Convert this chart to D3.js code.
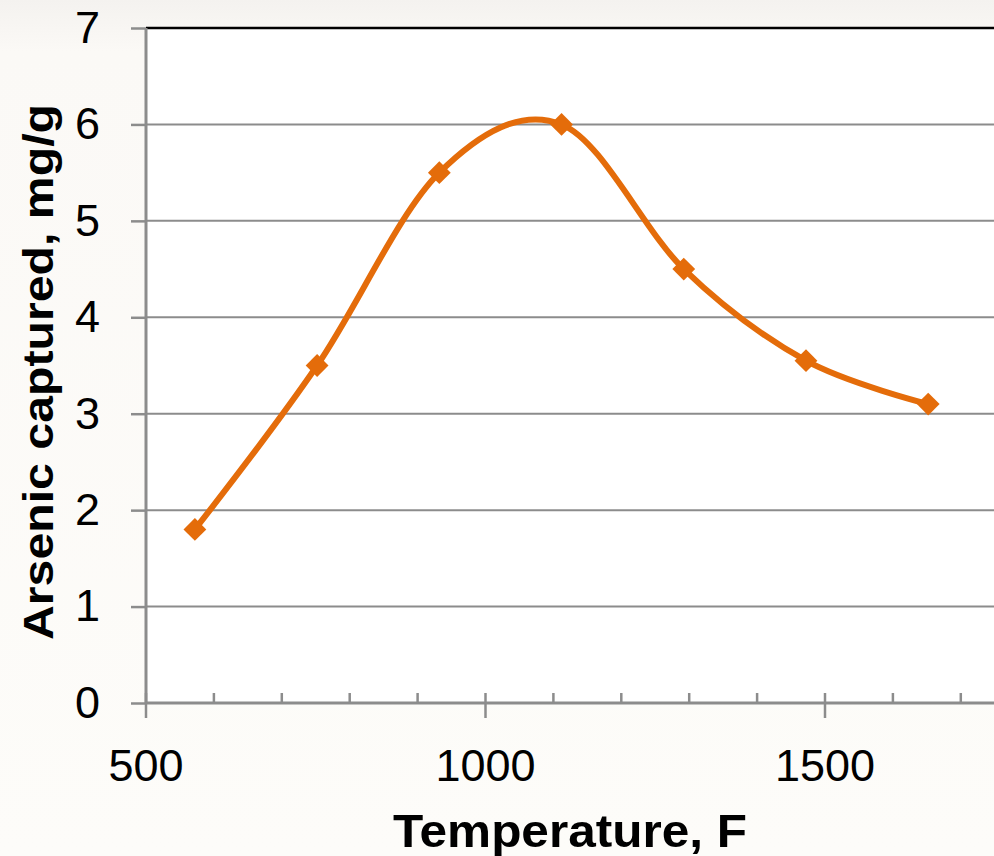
<!DOCTYPE html>
<html>
<head>
<meta charset="utf-8">
<script src="https://cdn.jsdelivr.net/npm/d3@7"></script>
<style>
  html, body { margin: 0; padding: 0; overflow: hidden; background: #fcfbf8; }
  svg { display: block; }
</style>
</head>
<body>
<svg id="chart" width="994" height="856"></svg>
<script>
// Data
const temperatures = [572, 752, 932, 1112, 1292, 1472, 1652];
const arsenic = [1.8, 3.5, 5.5, 6.0, 4.5, 3.55, 3.1];
const xTickValues = [500, 1000, 1500];
const xMinorTicks = [600, 700, 800, 900, 1100, 1200, 1300, 1400, 1600, 1700];
const yTickValues = [0, 1, 2, 3, 4, 5, 6, 7];
const xTitle = "Temperature, F";
const yTitle = "Arsenic captured, mg/g";

(function () {
const svg = d3.select("#chart");
const W = 994, H = 856;

// background
const defs = svg.append("defs");
const grad = defs.append("linearGradient").attr("id", "bg").attr("x1", 0).attr("y1", 0).attr("x2", 0).attr("y2", 1);
grad.append("stop").attr("offset", "0%").attr("stop-color", "#f4f2ef");
grad.append("stop").attr("offset", "6%").attr("stop-color", "#fbf9f6");
grad.append("stop").attr("offset", "100%").attr("stop-color", "#fdfcf9");
svg.append("rect").attr("width", W).attr("height", H).attr("fill", "url(#bg)");

const pLeft = 146, pTop = 28, pBottom = 703;
const x = d3.scaleLinear().domain([500, 1800]).range([pLeft, pLeft + 1300 * 0.679]);
const y = d3.scaleLinear().domain([0, 7]).range([pBottom, pTop]);

// plot area
svg.append("rect").attr("x", pLeft).attr("y", pTop).attr("width", W - pLeft + 10).attr("height", pBottom - pTop).attr("fill", "#ffffff");

// gridlines
svg.append("g").selectAll("line").data(yTickValues.filter(d => d > 0 && d < 7)).join("line")
  .attr("x1", pLeft).attr("x2", W + 10)
  .attr("y1", d => y(d)).attr("y2", d => y(d))
  .attr("stroke", "#8c8c8c").attr("stroke-width", 2);

// top border
svg.append("line").attr("x1", pLeft).attr("x2", W + 10).attr("y1", y(7)).attr("y2", y(7))
  .attr("stroke", "#000").attr("stroke-width", 2.5);

// y axis
const yAxis = d3.axisLeft(y).tickValues(yTickValues).tickSize(15).tickPadding(31).tickFormat(d3.format("d"));
const gy = svg.append("g").attr("transform", `translate(${pLeft},0)`).call(yAxis);
gy.select(".domain").remove();
gy.selectAll(".tick line").attr("stroke", "#8c8c8c").attr("stroke-width", 2.5);
gy.selectAll(".tick text").attr("font-family", "'Liberation Sans', Arial, sans-serif").attr("font-size", 45).attr("fill", "#000");
svg.append("line").attr("x1", pLeft).attr("x2", pLeft).attr("y1", pTop).attr("y2", pBottom + 1)
  .attr("stroke", "#8c8c8c").attr("stroke-width", 3);

// x axis
const gx = svg.append("g").attr("transform", `translate(0,${pBottom})`);
gx.append("line").attr("x1", pLeft).attr("x2", W + 10).attr("y1", 0).attr("y2", 0)
  .attr("stroke", "#8c8c8c").attr("stroke-width", 3);
gx.selectAll(".minor").data(xMinorTicks).join("line").attr("class", "minor")
  .attr("x1", d => x(d)).attr("x2", d => x(d)).attr("y1", -10).attr("y2", 0)
  .attr("stroke", "#8c8c8c").attr("stroke-width", 2.5);
gx.selectAll(".major").data(xTickValues).join("line").attr("class", "major")
  .attr("x1", d => x(d)).attr("x2", d => x(d)).attr("y1", -10).attr("y2", 15)
  .attr("stroke", "#8c8c8c").attr("stroke-width", 2.5);
gx.selectAll(".lbl").data(xTickValues).join("text").attr("class", "lbl")
  .attr("x", d => x(d)).attr("y", 78).attr("text-anchor", "middle")
  .attr("font-family", "'Liberation Sans', Arial, sans-serif").attr("font-size", 45).attr("fill", "#000")
  .text(d => d);

// titles
svg.append("text").attr("x", 570).attr("y", 847).attr("text-anchor", "middle")
  .attr("font-family", "'Liberation Sans', Arial, sans-serif").attr("font-weight", "bold")
  .attr("font-size", 47).attr("fill", "#000")
  .attr("textLength", 354).attr("lengthAdjust", "spacingAndGlyphs")
  .text(xTitle);
svg.append("text").attr("transform", "translate(53,372) rotate(-90)").attr("text-anchor", "middle")
  .attr("font-family", "'Liberation Sans', Arial, sans-serif").attr("font-weight", "bold")
  .attr("font-size", 43).attr("fill", "#000")
  .attr("textLength", 536).attr("lengthAdjust", "spacingAndGlyphs")
  .text(yTitle);

// line
const data = temperatures.map((t, i) => ({ t, v: arsenic[i] }));
const line = d3.line().x(d => x(d.t)).y(d => y(d.v)).curve(d3.curveCardinal.tension(0));
svg.append("path").datum(data).attr("d", line)
  .attr("fill", "none").attr("stroke", "#e46c0a").attr("stroke-width", 6);

// markers
const diamond = d3.symbol().type(d3.symbolSquare).size(260);
svg.append("g").selectAll("path").data(data).join("path")
  .attr("d", diamond)
  .attr("transform", d => `translate(${x(d.t)},${y(d.v)}) rotate(45)`)
  .attr("fill", "#e46c0a");
})();
</script>
</body>
</html>
